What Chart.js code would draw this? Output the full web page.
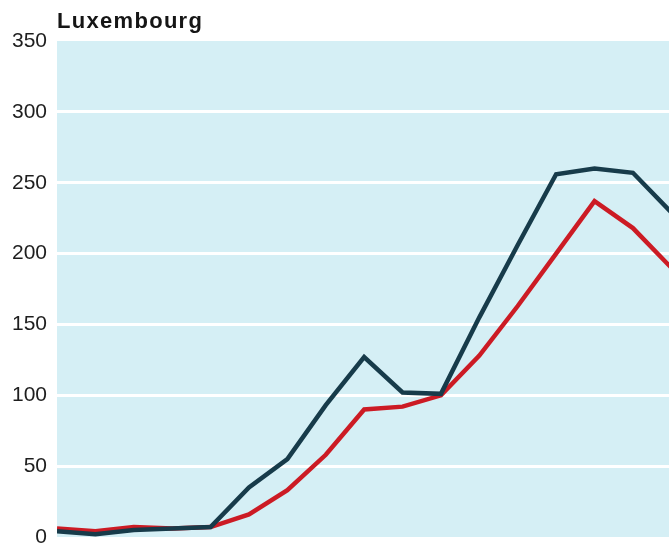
<!DOCTYPE html>
<html>
<head>
<meta charset="utf-8">
<script src="https://cdn.jsdelivr.net/npm/chart.js@4.4.1/dist/chart.umd.min.js"></script>
<style>
  html, body { margin: 0; padding: 0; background: #fff; overflow: hidden; }
  #wrap { width: 669px; height: 544px; position: relative; }
</style>
</head>
<body>
<div id="wrap"><canvas id="chart-lux"></canvas></div>
<script>
// Luxembourg - duas series (o eixo x nao tem rotulos)
const chartTitle = "Luxembourg";
const periodos = [0, 1, 2, 3, 4, 5, 6, 7, 8, 9, 10, 11, 12, 13, 14, 15, 16];
const serieEscura = [4, 2, 5, 6, 7, 35, 55, 93, 127, 102, 101, 155, 206, 256, 260, 257, 229];
const serieVermelha = [6, 4, 7, 6, 7, 16, 33, 58, 90, 92, 100, 128, 163, 200, 237, 218, 190];
const yTicks = [0, 50, 100, 150, 200, 250, 300, 350];

// a figura original corta a ultima posicao um pouco antes do fim
const xMaxVisivel = 15.94;

const corEscura = "#173b4a";
const corVermelha = "#cc1b24";
const corFundo = "#d5eff5";

const toPoints = (serie) => serie.map((v, i) => ({ x: periodos[i], y: v }));

// fundo azul claro so na area do grafico
const plotBackground = {
  id: "plotBackground",
  beforeDraw(chart) {
    const { ctx, chartArea } = chart;
    ctx.save();
    ctx.fillStyle = corFundo;
    ctx.fillRect(chartArea.left, chartArea.top, chartArea.right - chartArea.left, chartArea.bottom - chartArea.top);
    ctx.restore();
  },
};

// titulo alinhado com a borda esquerda da area do grafico
const leftTitle = {
  id: "leftTitle",
  afterDraw(chart) {
    const { ctx, chartArea } = chart;
    ctx.save();
    ctx.font = 'bold 22px "Liberation Sans", Arial, sans-serif';
    ctx.letterSpacing = "1.3px";
    ctx.fillStyle = "#151515";
    ctx.textBaseline = "alphabetic";
    ctx.fillText(chartTitle, chartArea.left, 28);
    ctx.restore();
  },
};

const ctx = document.getElementById("chart-lux").getContext("2d");
new Chart(ctx, {
  type: "line",
  data: {
    datasets: [
      {
        label: "serie 1",
        data: toPoints(serieEscura),
        borderColor: corEscura,
        borderWidth: 4.5,
        borderJoinStyle: "miter",
        pointRadius: 0,
        tension: 0,
        fill: false,
      },
      {
        label: "serie 2",
        data: toPoints(serieVermelha),
        borderColor: corVermelha,
        borderWidth: 4.5,
        borderJoinStyle: "miter",
        pointRadius: 0,
        tension: 0,
        fill: false,
      },
    ],
  },
  options: {
    responsive: true,
    maintainAspectRatio: false,
    animation: false,
    layout: { padding: { top: 41, bottom: 7, left: 0, right: 0 } },
    plugins: {
      legend: { display: false },
      tooltip: { enabled: false },
      title: { display: false },
    },
    scales: {
      x: {
        type: "linear",
        min: 0,
        max: xMaxVisivel,
        display: false,
      },
      y: {
        min: yTicks[0],
        max: yTicks[yTicks.length - 1],
        afterBuildTicks: (scale) => {
          scale.ticks = yTicks.map((v) => ({ value: v }));
        },
        afterFit: (scale) => {
          scale.width = 57;
          scale.paddingTop = 0;
          scale.paddingBottom = 0;
        },
        border: { display: false },
        grid: {
          drawTicks: false,
          lineWidth: 3,
          color: (c) =>
            c.tick && (c.tick.value === yTicks[0] || c.tick.value === yTicks[yTicks.length - 1])
              ? "rgba(0,0,0,0)"
              : "#ffffff",
        },
        ticks: {
          padding: 10,
          color: "#1e1e1e",
          font: { family: '"Liberation Sans", Arial, sans-serif', size: 21 },
        },
      },
    },
  },
  plugins: [plotBackground, leftTitle],
});
</script>
</body>
</html>
